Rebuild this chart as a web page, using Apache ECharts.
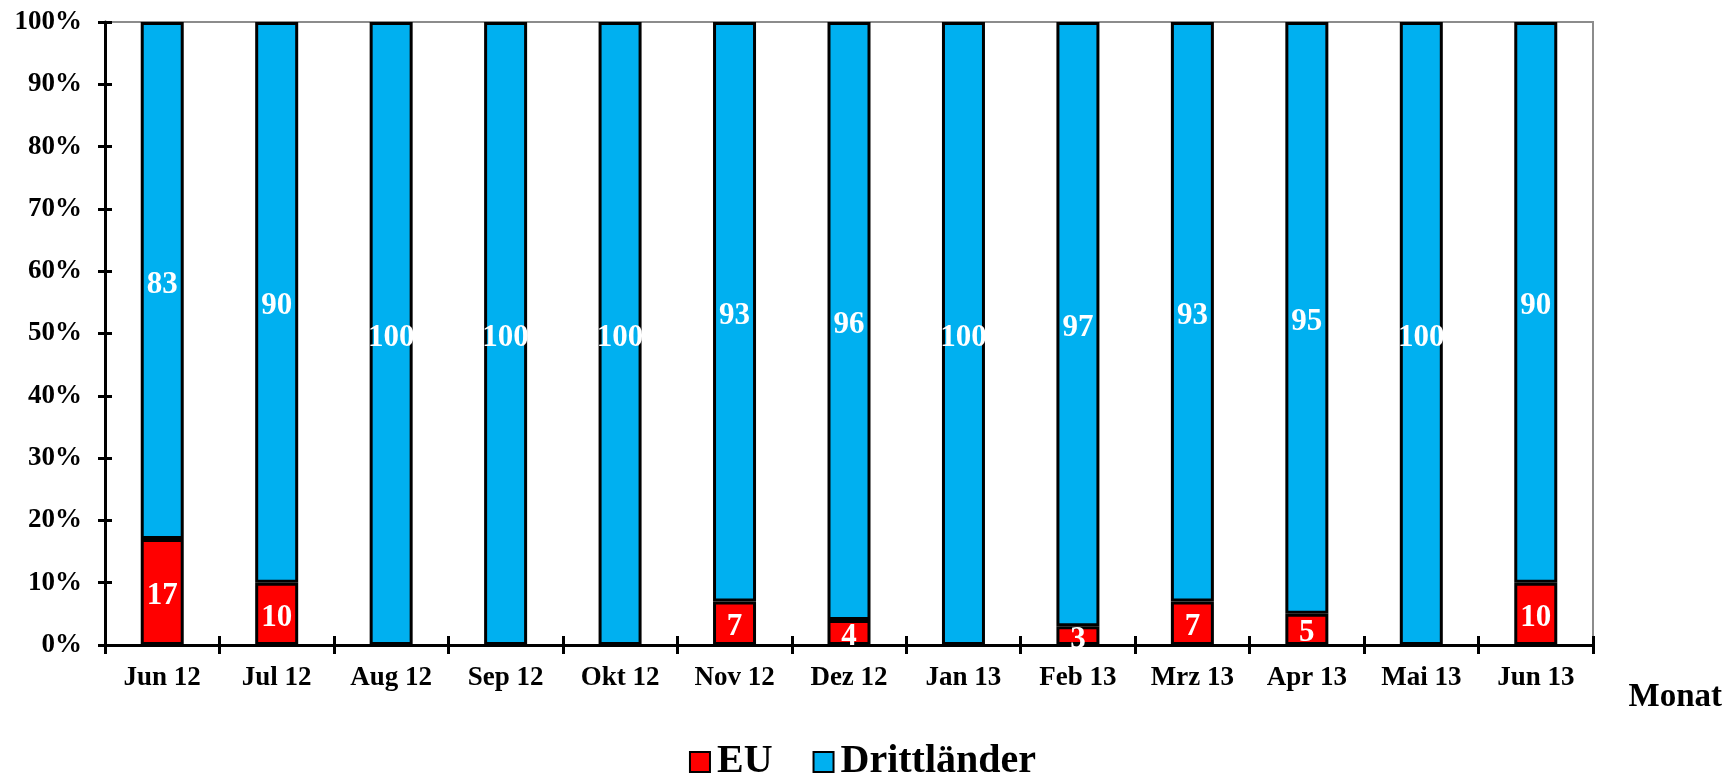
<!DOCTYPE html>
<html><head><meta charset="utf-8">
<script src="https://cdn.jsdelivr.net/npm/echarts@6/dist/echarts.min.js"></script>
<style>html,body{margin:0;padding:0;background:#fff}#c{width:1725px;height:781px}</style>
</head><body><div id="c"></div>
<script>
const categories = ['Jun 12','Jul 12','Aug 12','Sep 12','Okt 12','Nov 12','Dez 12','Jan 13','Feb 13','Mrz 13','Apr 13','Mai 13','Jun 13'];
const euValues = [17,10,0,0,0,7,4,0,3,7,5,0,10];
const drittValues = [83,90,100,100,100,93,96,100,97,93,95,100,90];
const seriesNames = ['EU','Drittländer'];
const xAxisTitle = 'Monat';

const font = '"Liberation Serif","Times New Roman",serif';
const chart = echarts.init(document.getElementById('c'));
const lbl = {show:true, position:'inside', offset:[0,4], color:'#fff', fontFamily:font, fontWeight:'bold', fontSize:31,
  formatter: p => p.value === 0 ? '' : String(p.value)};
const items = arr => arr.map(v => v === 0 ? {value:v, itemStyle:{borderWidth:0}} : v);
chart.setOption({
  animation:false,
  grid:{left:105, top:22, right:132, bottom:136, show:true, borderColor:'#8c8c8c', borderWidth:2, backgroundColor:'transparent'},
  legend:{bottom:-6, left:'center', itemWidth:20, itemHeight:20, itemGap:40,
    textStyle:{fontFamily:font, fontWeight:'bold', fontSize:40, color:'#000', padding:[0,0,0,2]},
    data:seriesNames.map(n=>({name:n, icon:'rect'}))},
  xAxis:[{type:'category', data:categories,
    axisLine:{lineStyle:{color:'#000', width:3}},
    axisTick:{show:true, length:9, lineStyle:{color:'#000', width:3}},
    axisLabel:{color:'#000', fontFamily:font, fontWeight:'bold', fontSize:27, margin:20}},
    {type:'category', data:categories, position:'bottom',
    axisLine:{show:false}, axisLabel:{show:false},
    axisTick:{show:true, inside:true, length:9, lineStyle:{color:'#000', width:3}}}],
  yAxis:[{type:'value', min:0, max:100, interval:10,
    axisLine:{show:true, lineStyle:{color:'#000', width:3}},
    axisTick:{show:true, length:7, lineStyle:{color:'#000', width:3}},
    splitLine:{show:false},
    axisLabel:{color:'#000', fontFamily:font, fontWeight:'bold', fontSize:27, margin:23, formatter:'{value}%'}},
    {type:'value', min:0, max:100, interval:10, position:'left',
    axisLine:{show:false}, splitLine:{show:false}, axisLabel:{show:false},
    axisTick:{show:true, inside:true, length:7, lineStyle:{color:'#000', width:3}}}],
  series:[
    {name:seriesNames[0], type:'bar', stack:'s', data:items(euValues), barWidth:43,
     itemStyle:{color:'#ff0000', borderColor:'#000', borderWidth:3}, label:lbl},
    {name:seriesNames[1], type:'bar', stack:'s', data:items(drittValues), barWidth:43,
     itemStyle:{color:'#00b0f0', borderColor:'#000', borderWidth:3}, label:lbl}
  ],
  graphic:[{type:'text', right:3, top:681, style:{text:xAxisTitle, fontFamily:font, fontWeight:'bold', fontSize:33, fill:'#000'}}]
});
</script></body></html>
